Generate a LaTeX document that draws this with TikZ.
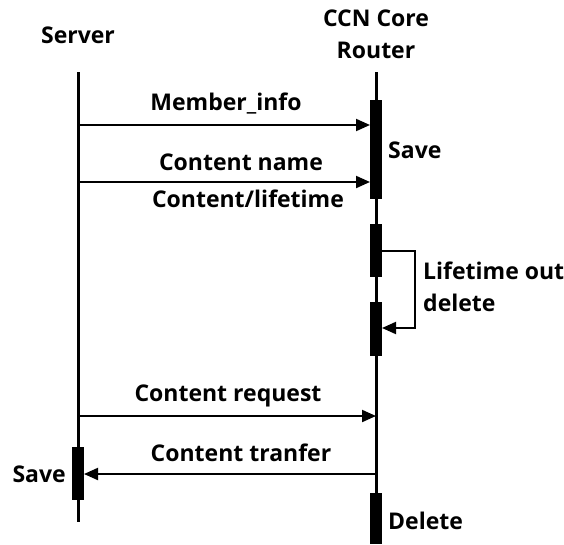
\documentclass[tikz,border=0pt]{standalone}
\usepackage{fontspec}
\setmainfont{Open Sans}
\usetikzlibrary{arrows.meta}

\begin{document}
\begin{tikzpicture}[
        x=1pt, y=-1pt,
        lifeline/.style={line width=3pt},
        actbar/.style={rectangle, fill=black, minimum width=12pt, inner sep=0pt},
        msg/.style={-{Triangle[length=14pt, width=12pt]}, line width=2pt},
        lbl/.style={font=\fontsize{23}{32}\selectfont\bfseries, inner sep=0pt}
    ]
    \useasboundingbox (0,0) rectangle (564,544);

    % Headers
    \node[lbl] (srvname) at (78,35) {Server};
    \node[lbl, align=center] (rtrname) at (376,34) {\bfseries CCN Core\\\bfseries Router};

    % Lifelines
    \coordinate (srvtop) at (78,72);
    \coordinate (srvbot) at (78,522);
    \coordinate (rtrtop) at (376,72);
    \coordinate (rtrbot) at (376,544);
    \draw[lifeline] (srvtop) -- (srvbot);
    \draw[lifeline] (rtrtop) -- (rtrbot);

    % Activation bars
    \node[actbar, minimum height=99pt] (bar1) at (376,149.5) {};
    \node[actbar, minimum height=53pt] (bar2) at (376,250.5) {};
    \node[actbar, minimum height=54pt] (bar3) at (376,329) {};
    \node[actbar, minimum height=51pt] (bar4) at (376,518.5) {};
    \node[actbar, minimum height=53pt] (sbar) at (78,473.5) {};

    % Messages
    \coordinate (m1a) at (78,125);
    \coordinate (m1b) at (370,125);
    \draw[msg] (m1a) -- (m1b);
    \node[lbl] (m1lbl) at (226,104) {Member\_info};

    \coordinate (m2a) at (78,182);
    \coordinate (m2b) at (370,182);
    \draw[msg] (m2a) -- (m2b);
    \node[lbl] (m2lbl) at (241,162) {Content name};
    \node[lbl] (m2lbl2) at (248,199) {Content/lifetime};
    \node[lbl, anchor=west] (save1) at (388,150) {Save};

    % Lifetime loop
    \coordinate (l1) at (382,251);
    \coordinate (l2) at (415,251);
    \coordinate (l3) at (415,328);
    \coordinate (l4) at (382,328);
    \draw[msg] (l1) -- (l2) -- (l3) -- (l4);
    \node[lbl, anchor=west, align=left] (lifelbl) at (423,287) {\bfseries Lifetime out\\\bfseries delete};

    \coordinate (m3a) at (78,416);
    \coordinate (m3b) at (376,416);
    \draw[msg] (m3a) -- (m3b);
    \node[lbl] (m3lbl) at (228,396) {Content request};

    \coordinate (m4a) at (376,474);
    \coordinate (m4b) at (84,474);
    \draw[msg] (m4a) -- (m4b);
    \node[lbl] (m4lbl) at (241,453) {Content tranfer};
    \node[lbl, anchor=east] (save2) at (66,474) {Save};
    \node[lbl, anchor=west] (del) at (388,521) {Delete};
\end{tikzpicture}
\end{document}
